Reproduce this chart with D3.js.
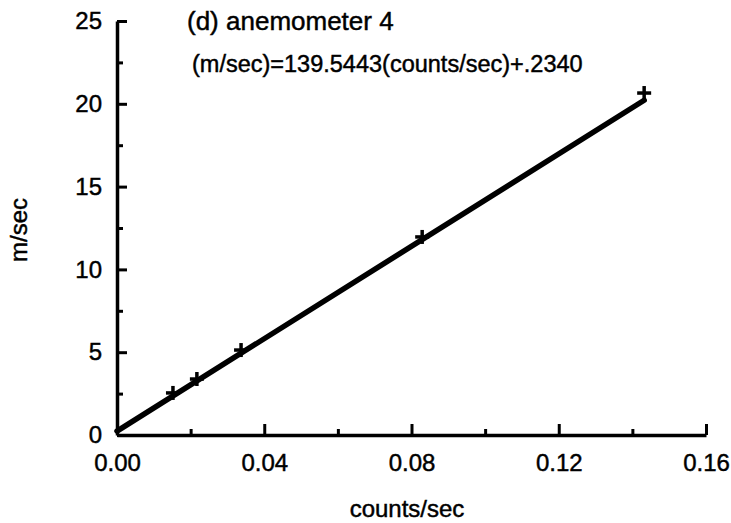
<!DOCTYPE html>
<html>
<head>
<meta charset="utf-8">
<script src="https://cdn.jsdelivr.net/npm/d3@7"></script>
<style>
  body { margin: 0; background: #fff; }
  text { font-family: "Liberation Sans", Arial, Helvetica, sans-serif; fill: #000; stroke: #000; stroke-width: 0.45px; }
</style>
</head>
<body>
<svg id="chart" width="731" height="523"></svg>
<script>
// Calibration measurements for anemometer 4
const countsPerSec = [0.0152, 0.0217, 0.0337, 0.0829, 0.1432];
const metersPerSec = [2.54, 3.38, 5.13, 11.96, 20.65];

// Least-squares fit: (m/sec) = slope * (counts/sec) + intercept
const fitSlope = 139.5443;
const fitIntercept = 0.2340;

const xTicks = [0, 0.04, 0.08, 0.12, 0.16];
const xMinorTicks = [0.02, 0.06, 0.10, 0.14];
const yTicks = [0, 5, 10, 15, 20, 25];
const yMinorTicks = [2.5, 7.5, 12.5, 17.5, 22.5];

const titleText = "(d) anemometer 4";
const equationText = "(m/sec)=139.5443(counts/sec)+.2340";
const xLabel = "counts/sec";
const yLabel = "m/sec";

const svg = d3.select("#chart");
const plot = { left: 117, right: 706, top: 21, bottom: 435 };

const x = d3.scaleLinear().domain([0, 0.16]).range([plot.left, plot.right]);
const y = d3.scaleLinear().domain([0, 25]).range([plot.bottom, plot.top]);

// X axis (ticks point up into the plot)
const xAxis = svg.append("g")
  .attr("transform", `translate(0,${plot.bottom})`)
  .call(d3.axisBottom(x).tickValues(xTicks).tickSize(-11).tickSizeOuter(0)
    .tickPadding(20).tickFormat(d3.format(".2f")));
svg.append("g")
  .attr("transform", `translate(0,${plot.bottom})`)
  .call(d3.axisBottom(x).tickValues(xMinorTicks).tickSize(-6).tickFormat(""))
  .call(g => g.select(".domain").remove());

// Y axis (ticks point right into the plot)
const yAxis = svg.append("g")
  .attr("transform", `translate(${plot.left},0)`)
  .call(d3.axisLeft(y).tickValues(yTicks).tickSize(-10).tickSizeOuter(0)
    .tickPadding(15).tickFormat(d3.format("d")));
svg.append("g")
  .attr("transform", `translate(${plot.left},0)`)
  .call(d3.axisLeft(y).tickValues(yMinorTicks).tickSize(-6).tickFormat(""))
  .call(g => g.select(".domain").remove());

svg.selectAll(".domain").attr("stroke", "#000").attr("stroke-width", 3.5);
svg.selectAll(".tick line").attr("stroke", "#000").attr("stroke-width", 3);
xAxis.selectAll(".tick text").attr("font-size", 24).attr("dy", "0.68em");
yAxis.selectAll(".tick text").attr("font-size", 24).attr("x", -15);
svg.selectAll(".tick text").style("font-family", "'Liberation Sans', Arial, sans-serif");

// Fitted calibration line
const xExtent = [0, d3.max(countsPerSec)];
svg.append("line")
  .attr("x1", x(xExtent[0])).attr("y1", y(fitSlope * xExtent[0] + fitIntercept))
  .attr("x2", x(xExtent[1])).attr("y2", y(fitSlope * xExtent[1] + fitIntercept))
  .attr("stroke", "#000").attr("stroke-width", 5.5).attr("stroke-linecap", "round");

// Measured points as "+" markers
const points = countsPerSec.map((c, i) => ({ c, v: metersPerSec[i] }));
const markers = svg.append("g").selectAll("g").data(points).join("g")
  .attr("transform", d => `translate(${x(d.c)},${y(d.v)})`);
markers.append("line").attr("x1", -7).attr("x2", 7).attr("y1", 0).attr("y2", 0)
  .attr("stroke", "#000").attr("stroke-width", 3.5);
markers.append("line").attr("x1", 0).attr("x2", 0).attr("y1", -7).attr("y2", 7)
  .attr("stroke", "#000").attr("stroke-width", 3.5);

// Title and fit equation
svg.append("text").attr("x", 187).attr("y", 30).attr("font-size", 26).text(titleText);
svg.append("text").attr("x", 192).attr("y", 72).attr("font-size", 23.5).text(equationText);

// Axis titles
svg.append("text").attr("x", 407).attr("y", 517).attr("text-anchor", "middle")
  .attr("font-size", 24).text(xLabel);
svg.append("text").attr("transform", "translate(27,230) rotate(-90)")
  .attr("text-anchor", "middle").attr("font-size", 24).text(yLabel);
</script>
</body>
</html>
